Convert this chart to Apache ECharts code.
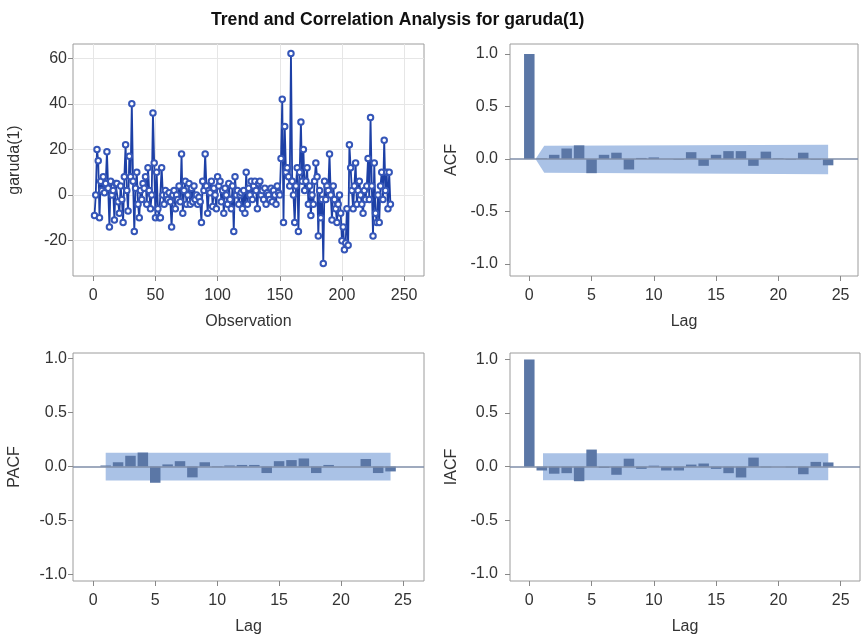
<!DOCTYPE html>
<html>
<head>
<meta charset="utf-8">
<script src="https://cdn.jsdelivr.net/npm/echarts@6/dist/echarts.min.js"></script>
<style>
html,body{margin:0;padding:0;background:#fff}
#main{width:863px;height:642px}
</style>
</head>
<body>
<div id="main"></div>
<script>
// garuda(1) differenced series, obs 1..239
var garuda = [
    -9, 0, 20, 15, -10, 6, 2, 8, 1, 5,
    19, 3, -14, 6, 0, 2, -11, 5, 5, -3,
    -8, 4, -2, -12, 8, 22, 2, -7, 17, 8,
    40, 6, -16, 3, 10, -4, -10, 2, -2, 5,
    3, 8, -4, 12, 2, -6, 0, 36, 14, -10,
    10, -6, -10, -10, 12, 0, -4, 2, 0, -2,
    1, -3, -14, 0, 2, -6, 0, -2, 4, -3,
    18, -8, 2, 6, -4, 0, 5, -4, 3, -3,
    4, -2, 0, -4, -1, -3, -12, 6, 2, 18,
    4, -8, 2, 1, 6, -5, 3, 0, -6, 8,
    4, 6, -3, 2, -8, 3, 0, -4, 5, -2,
    -6, 4, -16, 8, 0, 2, -4, 0, 1, -6,
    2, -8, 10, -4, 3, 0, 6, -2, 4, 6,
    2, -6, 5, 6, 0, 2, -2, 3, -4, 1,
    0, -2, 3, -3, 2, 0, -4, 4, 1, 0,
    16, 42, -12, 30, 10, 12, 8, 4, 62, 6,
    0, -12, 4, 12, -16, 10, 32, 6, 20, 2,
    6, 12, -4, 4, -9, 0, -4, 6, 14, 8,
    -18, 2, -10, -2, -30, 6, -2, 4, 2, 18,
    0, -11, 4, -2, -6, -12, -4, 0, -8, -20,
    -14, -24, -21, -6, -22, 22, 12, 2, -6, 4,
    14, -4, 2, 6, 0, -4, -8, 2, -2, 4,
    16, -2, 34, 4, -18, 14, -8, -12, 0, -12,
    4, 10, -2, 24, 2, 10, -6, 10, -4
];

// correlations by lag
var acfLags = [0,1,2,3,4,5,6,7,8,9,10,11,12,13,14,15,16,17,18,19,20,21,22,23,24];
var acf  = [1.0, 0.005, 0.04, 0.10, 0.13, -0.135, 0.04, 0.06, -0.10, 0.01, 0.015, 0.0, -0.005,
            0.065, -0.065, 0.04, 0.075, 0.075, -0.065, 0.07, 0.005, -0.005, 0.06, -0.005, -0.06];
var pacfLags = [1,2,3,4,5,6,7,8,9,10,11,12,13,14,15,16,17,18,19,20,21,22,23,24];
var pacf = [0.01, 0.04, 0.10, 0.13, -0.15, 0.02, 0.05, -0.10, 0.04, -0.005, 0.01, 0.015,
            0.015, -0.06, 0.05, 0.06, 0.075, -0.06, 0.015, 0.0, 0.0, 0.07, -0.06, -0.045];
var iacf = [1.0, -0.035, -0.065, -0.06, -0.135, 0.16, -0.01, -0.075, 0.075, -0.02, 0.01, -0.035,
            -0.035, 0.02, 0.03, -0.02, -0.06, -0.10, 0.085, -0.005, 0.0, -0.005, -0.07, 0.045, 0.04];

// two standard error bands
var acfBandLag = [0.5, 1.2, 24];
var acfBandHi  = [0, 0.125, 0.135];
var acfBandLo  = [0, -0.13, -0.145];
var pacfBandLag = [1, 24];
var pacfBandHi  = [0.128, 0.128];
var pacfBandLo  = [-0.128, -0.128];
var iacfBandLag = [1.1, 24];
var iacfBandHi  = [0.125, 0.125];
var iacfBandLo  = [-0.125, -0.125];

// tick labels
var obsTicks = [0, 50, 100, 150, 200, 250];
var seriesTicks = [-20, 0, 20, 40, 60];
var lagTicks = [0, 5, 10, 15, 20, 25];
var corrTicks = [-1, -0.5, 0, 0.5, 1];

var FONT = '"Liberation Sans", Arial, sans-serif';
var barColor = '#5b77a6';
var bandColor = '#aac2e6';
var refColor = '#7f8ea8';

var chart = echarts.init(document.getElementById('main'));

function xAxis(grid, min, max, ticks, name, split) {
    return {
        type: 'value', gridIndex: grid, min: min, max: max,
        name: name, nameLocation: 'middle', nameGap: 38,
        nameTextStyle: {fontFamily: FONT, fontSize: 16, color: '#333'},
        axisLine: {show: false, onZero: false},
        axisTick: {show: true, length: 5, customValues: ticks, lineStyle: {color: '#888'}},
        axisLabel: {customValues: ticks, margin: 12, fontFamily: FONT, fontSize: 16, color: '#333'},
        splitLine: {show: split, lineStyle: {color: '#e6e6e6'}}
    };
}
function yAxis(grid, min, max, ticks, name, split, margin, fmt) {
    return {
        type: 'value', gridIndex: grid, min: min, max: max,
        name: name, nameLocation: 'middle', nameGap: 50,
        nameTextStyle: {fontFamily: FONT, fontSize: 16, color: '#333'},
        axisLine: {show: false, onZero: false},
        axisTick: {show: true, length: 5, customValues: ticks, lineStyle: {color: '#888'}},
        axisLabel: {customValues: ticks, margin: margin, fontFamily: FONT, fontSize: 16, color: '#333',
            formatter: fmt},
        splitLine: {show: split, lineStyle: {color: '#e6e6e6'}}
    };
}
function oneDigit(v) { return Number(v).toFixed(1); }

function band(idx, lagsArr, hi, lo) {
    return {
        type: 'custom', xAxisIndex: idx, yAxisIndex: idx, z: 1, silent: true,
        data: [[lagsArr[0], 0]],
        renderItem: function (params, api) {
            var pts = [];
            for (var i = 0; i < lagsArr.length; i++) pts.push(api.coord([lagsArr[i], hi[i]]));
            for (var j = lagsArr.length - 1; j >= 0; j--) pts.push(api.coord([lagsArr[j], lo[j]]));
            return {type: 'polygon', shape: {points: pts}, style: {fill: bandColor}};
        }
    };
}
function bars(idx, lagsArr, vals) {
    var d = [];
    for (var i = 0; i < lagsArr.length; i++) d.push([lagsArr[i], vals[i]]);
    return {
        type: 'bar', xAxisIndex: idx, yAxisIndex: idx, z: 3, barWidth: 10.5,
        itemStyle: {color: barColor},
        data: d,
        markLine: {
            silent: true, symbol: 'none', label: {show: false},
            lineStyle: {color: refColor, width: 1.5, type: 'solid'},
            data: [{yAxis: 0}]
        }
    };
}

var lineData = [];
for (var i = 0; i < garuda.length; i++) lineData.push([i + 1, garuda[i]]);

var gridStyle = {show: true, borderColor: '#9c9c9c', borderWidth: 1, backgroundColor: '#fff'};

var option = {
    animation: false,
    title: {
        text: 'Trend and Correlation Analysis for garuda(1)',
        left: 206, top: 6,
        textStyle: {fontFamily: FONT, fontSize: 17.6, fontWeight: 'bold', color: '#111'}
    },
    grid: [
        Object.assign({left: 73, top: 44, width: 351, height: 232}, gridStyle),
        Object.assign({left: 510, top: 44, width: 348, height: 232}, gridStyle),
        Object.assign({left: 73, top: 353, width: 351, height: 228}, gridStyle),
        Object.assign({left: 510, top: 353, width: 350, height: 228}, gridStyle)
    ],
    xAxis: [
        xAxis(0, -16.3, 266, obsTicks, 'Observation', true),
        xAxis(1, -1.55, 26.4, lagTicks, 'Lag', false),
        xAxis(2, -1.64, 26.7, lagTicks, 'Lag', false),
        xAxis(3, -1.55, 26.55, lagTicks, 'Lag', false)
    ],
    yAxis: [
        yAxis(0, -35.5, 66.2, seriesTicks, 'garuda(1)', true, 6),
        yAxis(1, -1.114, 1.095, corrTicks, 'ACF', false, 12, oneDigit),
        yAxis(2, -1.06, 1.052, corrTicks, 'PACF', false, 6, oneDigit),
        yAxis(3, -1.065, 1.06, corrTicks, 'IACF', false, 12, oneDigit)
    ],
    series: [
        {
            type: 'line', xAxisIndex: 0, yAxisIndex: 0, data: lineData,
            symbol: 'emptyCircle', symbolSize: 5.5, showAllSymbol: true,
            lineStyle: {color: '#1d40a6', width: 1.8},
            itemStyle: {color: '#3556b8', borderWidth: 1}
        },
        band(1, acfBandLag, acfBandHi, acfBandLo),
        bars(1, acfLags, acf),
        band(2, pacfBandLag, pacfBandHi, pacfBandLo),
        bars(2, pacfLags, pacf),
        band(3, iacfBandLag, iacfBandHi, iacfBandLo),
        bars(3, acfLags, iacf)
    ]
};
chart.setOption(option);
</script>
</body>
</html>
